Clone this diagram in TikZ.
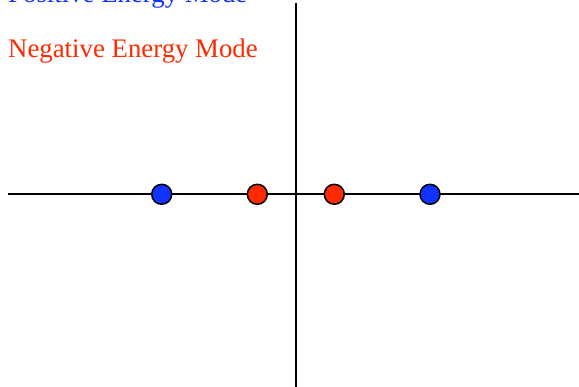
\documentclass[tikz,border=0pt]{standalone}
\usepackage{fontspec}
\setmainfont{Liberation Serif}
\definecolor{posblue}{HTML}{1133FF}
\definecolor{negred}{HTML}{FF2A00}
\tikzset{
  axis/.style={line width=1.9pt, black},
  mode/.style={circle, draw=black, line width=1.5pt, minimum size=20pt, inner sep=0pt},
  label/.style={anchor=base west, inner sep=0pt, font=\fontsize{26.8}{30}\selectfont}
}
\begin{document}
\begin{tikzpicture}[x=1pt,y=-1pt]
\useasboundingbox (0,0) rectangle (579,387);
\coordinate (hl) at (8,194.3);
\coordinate (hr) at (579,194.3);
\coordinate (vt) at (295.7,3);
\coordinate (vb) at (295.7,387);
\draw[axis] (hl) -- (hr);
\draw[axis] (vt) -- (vb);
\node[mode, fill=posblue] (p1) at (161.7,194.3) {};
\node[mode, fill=negred] (n1) at (257.3,194.3) {};
\node[mode, fill=negred] (n2) at (334.3,194.3) {};
\node[mode, fill=posblue] (p2) at (430,194.3) {};
\node[label, text=posblue] (pt) at (8,2.5) {Positive Energy Mode};
\node[label, text=negred] (nt) at (8,58) {Negative Energy Mode};
\end{tikzpicture}
\end{document}
